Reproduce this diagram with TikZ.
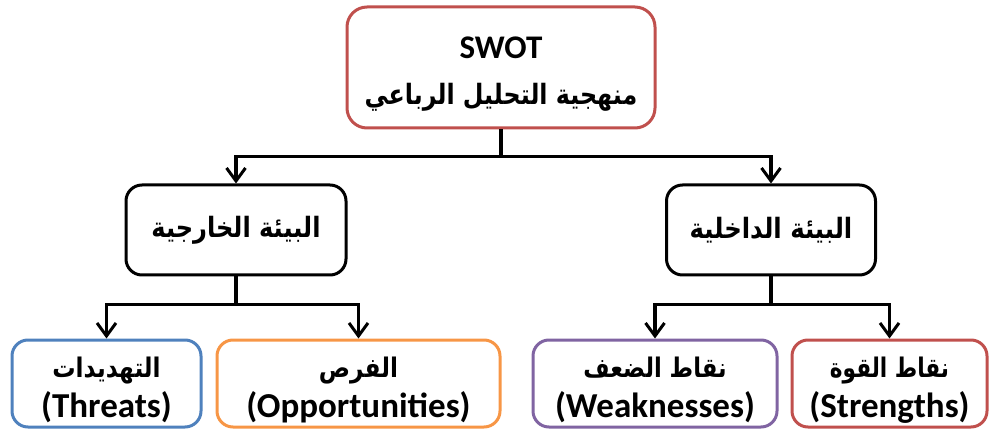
\documentclass[tikz,border=0pt]{standalone}
\usepackage{fontspec}
\usepackage{graphicx}
\setmainfont{Carlito}
\newfontfamily\arabicfont[Script=Arabic]{DejaVu Sans}
\TeXXeTstate=1
\usetikzlibrary{arrows.meta,calc}
\definecolor{cred}{HTML}{C0504D}
\definecolor{corange}{HTML}{F79646}
\definecolor{cblue}{HTML}{4F81BD}
\definecolor{cpurple}{HTML}{8064A2}
\newcommand{\artxt}[2]{\scalebox{#1}[1]{\arabicfont\bfseries #2}}
\newcommand{\twolines}[3]{\raisebox{#3}[\height][\depth]{\begin{tabular}{@{}c@{}}#1\\#2\end{tabular}}}
\begin{document}
\begin{tikzpicture}[x=1pt,y=-1pt,
  box/.style={draw, line width=3pt, rounded corners=16pt, inner sep=0pt, align=center,
    font=\fontsize{35}{40}\selectfont\bfseries},
  arr/.style={line width=3.3pt, -{Straight Barb[length=13pt,width=19pt,line width=3pt]}},
  ln/.style={line width=3.3pt}]
\useasboundingbox (0,0) rectangle (990,430);
\node[box, draw=cred, minimum width=308pt, minimum height=121pt, rounded corners=20pt,
  font=\fontsize{33}{46}\selectfont\bfseries] (top) at (501,67.5)
  {\twolines{SWOT}{\fontsize{28}{46}\selectfont\artxt{0.85}{\beginR منهجية التحليل الرباعي\endR}}{-5pt}};
\node[box, draw=black, minimum width=220pt, minimum height=90pt, font=\fontsize{28}{30}\selectfont\bfseries] (ext) at (236,230)
  {\artxt{0.86}{\beginR البيئة الخارجية\endR}};
\node[box, draw=black, minimum width=209pt, minimum height=90pt, font=\fontsize{28}{30}\selectfont\bfseries] (int) at (771,230)
  {\artxt{0.87}{\beginR البيئة الداخلية\endR}};
\node[box, draw=cblue, minimum width=189pt, minimum height=87pt] (thr) at (106.5,383.5)
  {\twolines{\fontsize{27}{40}\selectfont\artxt{0.86}{\beginR التهديدات\endR}}{(Threats)}{-6pt}};
\node[box, draw=corange, minimum width=283pt, minimum height=87pt] (opp) at (358.5,383.5)
  {\twolines{\fontsize{27}{40}\selectfont\artxt{0.86}{\beginR الفرص\endR}}{(Opportunities)}{-6pt}};
\node[box, draw=cpurple, minimum width=244pt, minimum height=87pt] (weak) at (655,383.5)
  {\twolines{\fontsize{27}{40}\selectfont\artxt{0.84}{\beginR نقاط الضعف\endR}}{(Weaknesses)}{-6pt}};
\node[box, draw=cred, minimum width=195pt, minimum height=87pt] (str) at (889.5,383.5)
  {\twolines{\fontsize{27}{40}\selectfont\artxt{0.8}{\beginR نقاط القوة\endR}}{(Strengths)}{-6pt}};
\coordinate (j0) at ($(top.south)+(0,27)$);
\coordinate (j1) at ($(ext.south)+(0,28)$);
\coordinate (j2) at ($(int.south)+(0,28)$);
\draw[ln] (top.south) -- (j0);
\draw[arr] (j0) -| (ext.north);
\draw[arr] (j0) -| (int.north);
\draw[ln] (ext.south) -- (j1);
\draw[arr] (j1) -| (thr.north);
\draw[arr] (j1) -| (opp.north);
\draw[ln] (int.south) -- (j2);
\draw[arr] (j2) -| (weak.north);
\draw[arr] (j2) -| (str.north);
\end{tikzpicture}
\end{document}
